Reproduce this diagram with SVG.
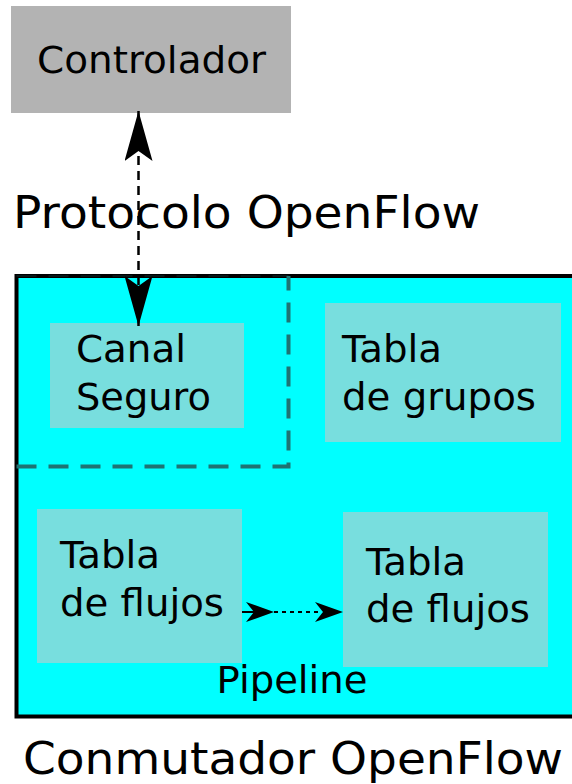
<svg xmlns="http://www.w3.org/2000/svg" width="572" height="784" viewBox="0 0 572 784">
<style>
text{font-family:"DejaVu Sans","Liberation Sans",sans-serif;fill:#000}
.inner{fill:#78dede}
.t37{font-size:37px}
.big{font-size:45px}
</style>
<defs>
<marker id="ah" viewBox="0 0 50 28" refX="50" refY="14" markerWidth="50" markerHeight="28" markerUnits="userSpaceOnUse" orient="auto-start-reverse">
<path d="M50 14 L0 0 L10 14 L0 28 Z" fill="#000"/>
</marker>
</defs>
<rect x="0" y="0" width="572" height="784" fill="#fff"/>
<g id="controlador">
<rect x="11" y="6" width="280" height="107" fill="#b3b3b3"/>
<text x="37" y="73" style="font-size:38px" textLength="229" lengthAdjust="spacingAndGlyphs">Controlador</text>
</g>
<g id="conmutador">
<rect x="16.5" y="276" width="560" height="440.5" fill="#00ffff" stroke="#000" stroke-width="4"/>
<text x="23" y="774" class="big" textLength="540" lengthAdjust="spacingAndGlyphs">Conmutador OpenFlow</text>
</g>
<g id="zona-segura">
<path d="M16.5 466.5 H288.5 V276" fill="none" stroke="#1f7373" stroke-width="4" stroke-dasharray="20,12"/>
<path d="M16.5 276 H288.5" fill="none" stroke="#1f7373" stroke-width="1" stroke-dasharray="20,12" opacity="0.4"/>
</g>
<g id="canal-seguro">
<rect x="50" y="323" width="194" height="105" class="inner"/>
<text x="76" y="362" class="t37" textLength="110" lengthAdjust="spacingAndGlyphs">Canal</text>
<text x="76" y="410" class="t37" textLength="135" lengthAdjust="spacingAndGlyphs">Seguro</text>
</g>
<g id="tabla-grupos">
<rect x="325" y="303" width="236" height="139" class="inner"/>
<text x="342" y="362" class="t37" textLength="100" lengthAdjust="spacingAndGlyphs">Tabla</text>
<text x="342" y="410" class="t37" textLength="194" lengthAdjust="spacingAndGlyphs">de grupos</text>
</g>
<g id="tabla-flujos-1">
<rect x="37" y="509" width="205" height="154" class="inner"/>
<text x="60" y="568" class="t37" textLength="100" lengthAdjust="spacingAndGlyphs">Tabla</text>
<text x="60" y="616" class="t37" textLength="164" lengthAdjust="spacingAndGlyphs">de flujos</text>
</g>
<g id="tabla-flujos-2">
<rect x="343" y="512" width="205" height="155" class="inner"/>
<text x="366" y="575" class="t37" textLength="100" lengthAdjust="spacingAndGlyphs">Tabla</text>
<text x="366" y="622" class="t37" textLength="164" lengthAdjust="spacingAndGlyphs">de flujos</text>
</g>
<g id="pipeline">
<text x="292" y="693" class="t37" text-anchor="middle" textLength="151" lengthAdjust="spacingAndGlyphs">Pipeline</text>
</g>
<g id="connectors">
<line x1="138.5" y1="111" x2="138.5" y2="326" stroke="#000" stroke-width="2.5" stroke-dasharray="9,6" marker-start="url(#ah)" marker-end="url(#ah)"/>
<line x1="242" y1="612" x2="262" y2="612" stroke="#000" stroke-width="2"/>
<path d="M274 612 L246 602 L254 612 L246 622 Z" fill="#000"/>
<line x1="274" y1="612" x2="322" y2="612" stroke="#000" stroke-width="2" stroke-dasharray="4,4"/>
<path d="M343 612 L315 602 L323 612 L315 622 Z" fill="#000"/>
</g>
<text x="13" y="228" class="big" textLength="467" lengthAdjust="spacingAndGlyphs">Protocolo OpenFlow</text>
</svg>
